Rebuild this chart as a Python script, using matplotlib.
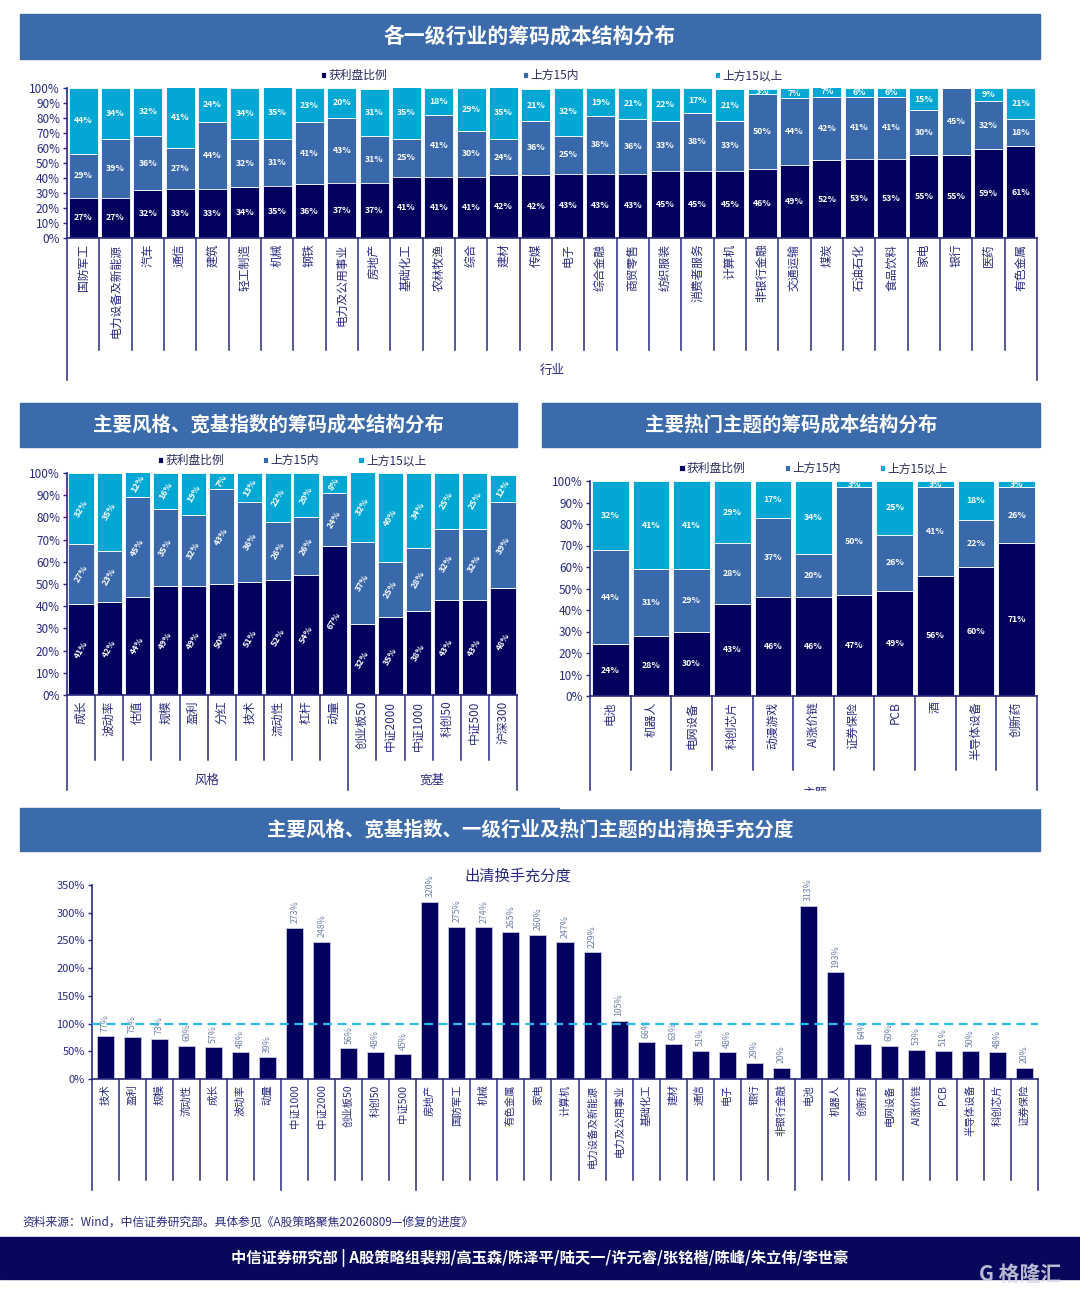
import numpy as np
import matplotlib
matplotlib.use('Agg')
import matplotlib.pyplot as plt
from matplotlib.patches import Rectangle
from matplotlib.transforms import blended_transform_factory

plt.rcParams['font.family'] = ['Noto Sans CJK SC', 'DejaVu Sans']

# ---- data: industries ----
ind_names = ['国防军工', '电力设备及新能源', '汽车', '通信', '建筑', '轻工制造', '机械', '钢铁',
             '电力及公用事业', '房地产', '基础化工', '农林牧渔', '综合', '建材', '传媒', '电子',
             '综合金融', '商贸零售', '纺织服装', '消费者服务', '计算机', '非银行金融', '交通运输',
             '煤炭', '石油石化', '食品饮料', '家电', '银行', '医药', '有色金属']
ind_profit = [27, 27, 32, 33, 33, 34, 35, 36, 37, 37, 41, 41, 41, 42, 42, 43, 43, 43, 45, 45,
              45, 46, 49, 52, 53, 53, 55, 55, 59, 61]
ind_within = [29, 39, 36, 27, 44, 32, 31, 41, 43, 31, 25, 41, 30, 24, 36, 25, 38, 36, 33, 38,
              33, 50, 44, 42, 41, 41, 30, 45, 32, 18]
ind_above = [44, 34, 32, 41, 24, 34, 35, 23, 20, 31, 35, 18, 29, 35, 21, 32, 19, 21, 22, 17,
             21, 3, 7, 7, 6, 6, 15, 0, 9, 21]

# ---- data: styles & broad indices ----
sty_names = ['成长', '波动率', '估值', '规模', '盈利', '分红', '技术', '流动性', '杠杆', '动量',
             '创业板50', '中证2000', '中证1000', '科创50', '中证500', '沪深300']
sty_profit = [41, 42, 44, 49, 49, 50, 51, 52, 54, 67, 32, 35, 38, 43, 43, 48]
sty_within = [27, 23, 45, 35, 32, 43, 36, 26, 26, 24, 37, 25, 28, 32, 32, 39]
sty_above = [32, 35, 12, 16, 19, 7, 13, 22, 20, 8, 32, 40, 34, 25, 25, 12]

# ---- data: themes ----
thm_names = ['电池', '机器人', '电网设备', '科创芯片', '动漫游戏', 'AI涨价链', '证券保险', 'PCB',
             '酒', '半导体设备', '创新药']
thm_profit = [24, 28, 30, 43, 46, 46, 47, 49, 56, 60, 71]
thm_within = [44, 31, 29, 28, 37, 20, 50, 26, 41, 22, 26]
thm_above = [32, 41, 41, 29, 17, 34, 3, 25, 3, 18, 3]

# ---- data: turnover ----
to_names = ['技术', '盈利', '规模', '流动性', '成长', '波动率', '动量', '中证1000', '中证2000',
            '创业板50', '科创50', '中证500', '房地产', '国防军工', '机械', '有色金属', '家电',
            '计算机', '电力设备及新能源', '电力及公用事业', '基础化工', '建材', '通信', '电子',
            '银行', '非银行金融', '电池', '机器人', '创新药', '电网设备', 'AI涨价链', 'PCB',
            '半导体设备', '科创芯片', '证券保险']
to_values = [77, 75, 73, 60, 57, 48, 39, 273, 248, 56, 48, 45, 320, 275, 274, 265, 260, 247,
             229, 105, 66, 63, 51, 48, 29, 20, 313, 193, 64, 60, 53, 51, 50, 48, 20]

series_names = ['获利盘比例', '上方15内', '上方15以上']

C1 = '#02025E'
C2 = '#3A69AB'
C3 = '#03A7D4'
NAVY = '#2A2A7E'
BANNER = '#3C6BAC'

W, H = 1080, 1299
fig = plt.figure(figsize=(W / 100, H / 100), dpi=100)


def add_ax(x0, y0, x1, y1):
    return fig.add_axes([x0 / W, 1 - y1 / H, (x1 - x0) / W, (y1 - y0) / H])


def banner(x0, y0, x1, y1, text, fs):
    fig.patches.append(Rectangle((x0 / W, 1 - y1 / H), (x1 - x0) / W, (y1 - y0) / H,
                                 transform=fig.transFigure, color=BANNER, zorder=0))
    fig.text((x0 + x1) / 2 / W, 1 - (y0 + y1) / 2 / H, text, color='white', fontsize=fs,
             ha='center', va='center', fontweight='bold')


def style_axis(ax, n, ymax, step, fs):
    ax.set_xlim(-0.5, n - 0.5)
    ax.set_ylim(0, ymax)
    ax.set_yticks(np.arange(0, ymax + 1, step))
    ax.set_yticklabels(['%d%%' % v for v in np.arange(0, ymax + 1, step)])
    for s in ['top', 'right']:
        ax.spines[s].set_visible(False)
    for s in ['left', 'bottom']:
        ax.spines[s].set_color(NAVY)
        ax.spines[s].set_linewidth(1.2)
    ax.tick_params(axis='y', colors=NAVY, labelsize=fs, length=3, width=1, pad=2)
    ax.tick_params(axis='x', length=0, pad=4, labelcolor=NAVY)


def separators(ax, n, short, long_, groups):
    tr = blended_transform_factory(ax.transData, ax.transAxes)
    for i in range(n + 1):
        pos = i - 0.5
        depth = long_ if (i == 0 or i == n or i in groups) else short
        ax.plot([pos, pos], [0, -depth], color=NAVY, lw=1.1, transform=tr, clip_on=False)


def stacked(ax, names, prof, within, above, rot, fs, lab_fs, leg_space):
    x = np.arange(len(names))
    bottom2 = np.array(prof)
    bottom3 = bottom2 + np.array(within)
    b1 = ax.bar(x, prof, 0.9, color=C1, edgecolor='white', linewidth=0.6)
    b2 = ax.bar(x, within, 0.9, bottom=bottom2, color=C2, edgecolor='white', linewidth=0.6)
    b3 = ax.bar(x, above, 0.9, bottom=bottom3, color=C3, edgecolor='white', linewidth=0.6)
    for vals, bots in [(prof, np.zeros(len(x))), (within, bottom2), (above, bottom3)]:
        for i, (v, b) in enumerate(zip(vals, bots)):
            if v > 0:
                ax.text(i, b + v / 2, '%d%%' % v, color='white', fontsize=lab_fs,
                        fontweight='bold', ha='center', va='center', rotation=rot,
                        clip_on=True)
    style_axis(ax, len(names), 100, 10, fs)
    ax.set_xticks(x)
    ax.set_xticklabels(names, rotation=90, fontsize=fs, color=NAVY)
    ax.legend([b1, b2, b3], series_names, ncol=3, loc='lower center',
              bbox_to_anchor=(0.5, 1.0), frameon=False, fontsize=fs,
              handlelength=0.45, handleheight=0.45, handletextpad=0.2,
              columnspacing=leg_space, borderaxespad=0.1, labelcolor='#2A2A5E')


# ---------- top chart ----------
banner(20, 14, 1040, 59, '各一级行业的筹码成本结构分布', 15)
ax1 = add_ax(67, 88, 1037, 238)
stacked(ax1, ind_names, ind_profit, ind_within, ind_above, 0, 8.5, 6.3, 11.5)
separators(ax1, len(ind_names), 112 / 150, 142 / 150, [])
fig.text(552 / W, 1 - 370 / H, '行业', color=NAVY, fontsize=9, ha='center', va='center')

# ---------- middle left ----------
banner(20, 403, 517, 447, '主要风格、宽基指数的筹码成本结构分布', 14)
ax2 = add_ax(67, 473, 517, 695)
stacked(ax2, sty_names, sty_profit, sty_within, sty_above, 60, 8.5, 6.3, 3.3)
separators(ax2, len(sty_names), 65 / 222, 95 / 222, [10])
fig.text(207 / W, 1 - 780 / H, '风格', color=NAVY, fontsize=9, ha='center', va='center')
fig.text(432 / W, 1 - 780 / H, '宽基', color=NAVY, fontsize=9, ha='center', va='center')

# ---------- middle right ----------
banner(542, 403, 1040, 447, '主要热门主题的筹码成本结构分布', 14)
ax3 = add_ax(590, 481, 1037, 696)
stacked(ax3, thm_names, thm_profit, thm_within, thm_above, 0, 8.5, 6.3, 3.3)
separators(ax3, len(thm_names), 74 / 215, 96 / 215, [])
fig.text(815 / W, 1 - 793 / H, '主题', color=NAVY, fontsize=9, ha='center', va='center')
fig.patches.append(Rectangle((560 / W, 1 - 808 / H), 480 / W, 17 / H,
                             transform=fig.transFigure, color='white', zorder=5))

# ---------- bottom chart ----------
banner(20, 808, 1040, 851, '主要风格、宽基指数、一级行业及热门主题的出清换手充分度', 14)
ax4 = add_ax(92, 885, 1038, 1079)
xb = np.arange(len(to_names))
ax4.bar(xb, to_values, 0.63, color=C1, edgecolor='#C8C8E0', linewidth=0.6)
for i, v in enumerate(to_values):
    ax4.text(i, v + 8, '%d%%' % v, rotation=90, ha='center', va='bottom', fontsize=6.3,
             color='#6F80A8')
ax4.axhline(100, ls=(0, (4, 2.5)), color='#2EB8EC', lw=1.6, zorder=3)
style_axis(ax4, len(to_names), 350, 50, 8)
ax4.set_xticks(xb)
ax4.set_xticklabels(to_names, rotation=90, fontsize=7.5, color=NAVY)
ax4.set_title('出清换手充分度', color=NAVY, fontsize=11, pad=-10, x=0.45)
separators(ax4, len(to_names), 101 / 194, 111 / 194, [7, 12, 26])

# ---------- footer ----------
fig.text(22 / W, 1 - 1222 / H,
         '资料来源：Wind，中信证券研究部。具体参见《A股策略聚焦20260809—修复的进度》',
         color=NAVY, fontsize=8.5, ha='left', va='center')
fig.patches.append(Rectangle((0, 1 - 1279 / H), 1, 42 / H, transform=fig.transFigure,
                             color='#07075C', zorder=0))
fig.text(540 / W, 1 - 1258 / H,
         '中信证券研究部 | A股策略组裴翔/高玉森/陈泽平/陆天一/许元睿/张铭楷/陈峰/朱立伟/李世豪',
         color='white', fontsize=11, ha='center', va='center', fontweight='bold')
fig.text(1020 / W, 1 - 1274 / H, 'G 格隆汇', color='#D8D8E8', fontsize=15, alpha=0.85,
         ha='center', va='center', fontweight='bold')

fig.savefig('out.png', dpi=100, facecolor='white')
